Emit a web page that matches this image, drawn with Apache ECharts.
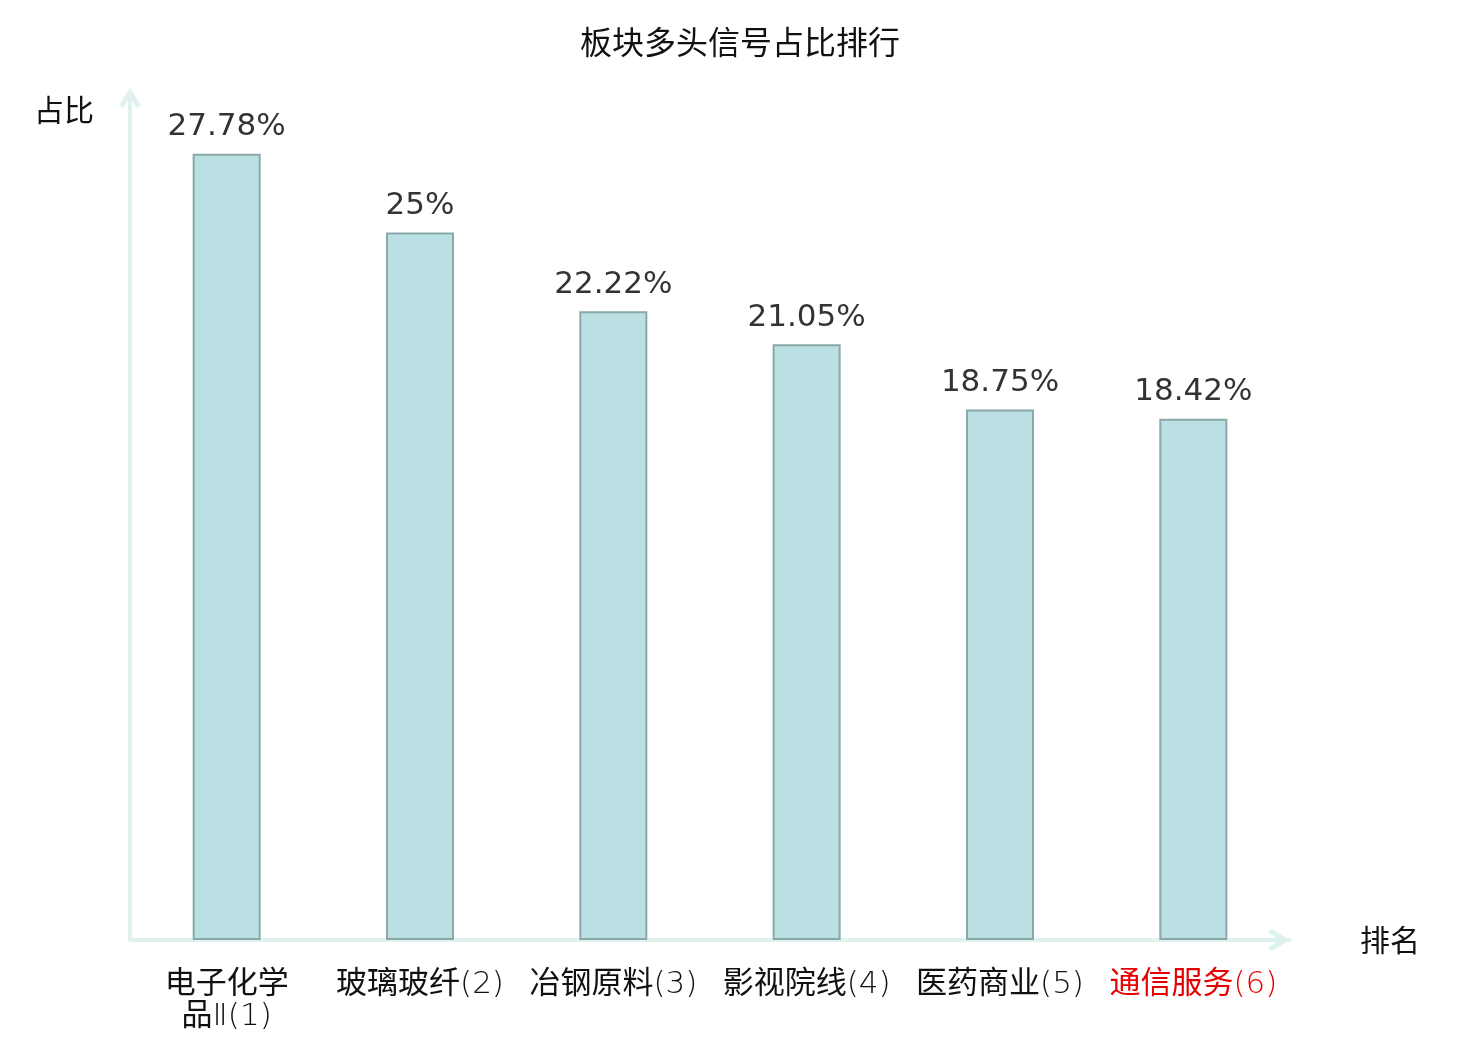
<!DOCTYPE html>
<html lang="zh">
<head>
  <meta charset="UTF-8">
  <title>板块多头信号占比排行</title>
  <script src="https://cdn.jsdelivr.net/npm/echarts@6/dist/echarts.min.js"></script>
  <style>
    html, body { margin: 0; padding: 0; background: #fff; }
    #main { width: 1480px; height: 1040px; }
  </style>
</head>
<body>
  <div id="main"></div>
  <script>
    // 数据
    const categories = ['电子化学品Ⅱ(1)', '玻璃玻纤(2)', '冶钢原料(3)', '影视院线(4)', '医药商业(5)', '通信服务(6)']
    const values = [27.78, 25, 22.22, 21.05, 18.75, 18.42]
    const highlightIndex = 5

    const cjk = 'Noto Sans CJK SC'
    const latin = 'DejaVu Sans'
    const thin = '"DejaVu Sans Light", "Noto Sans CJK SC"'
    // 空心箭头
    const chevron = 'path://M10 0 L20 16 L16.5 19 L10 9 L3.5 19 L0 16 Z'

    const myChart = echarts.init(document.querySelector('#main'))

    const option = {
      title: {
        text: '板块多头信号占比排行',
        left: 'center',
        top: 21,
        textStyle: { fontSize: 32, fontWeight: 'normal', color: '#111', fontFamily: cjk }
      },
      grid: { left: 130, right: 190, top: 91, bottom: 100 },
      xAxis: {
        type: 'category',
        data: categories,
        name: '排名',
        nameGap: 70,
        nameTextStyle: { fontSize: 30, color: '#111', fontFamily: cjk },
        axisLine: {
          lineStyle: { color: '#dff2ef', width: 4 },
          symbol: ['none', chevron],
          symbolSize: [24, 22],
          symbolOffset: [0, -11]
        },
        axisTick: { show: false },
        axisLabel: {
          interval: 0,
          margin: 29,
          fontSize: 31,
          lineHeight: 32,
          fontFamily: thin,
          formatter: function (v) {
            return v.length > 8 ? v.slice(0, 4) + '\n' + v.slice(4) : v
          },
          color: function (v, i) { return i === highlightIndex ? '#e60000' : '#111' }
        }
      },
      yAxis: {
        type: 'value',
        min: 0,
        max: 30,
        name: '占比',
        nameLocation: 'end',
        nameGap: 0,
        nameTextStyle: { fontSize: 30, color: '#111', fontFamily: cjk, align: 'right', padding: [0, 36, -34, 0] },
        axisLine: {
          show: true,
          lineStyle: { color: '#dff2ef', width: 4 },
          symbol: ['none', chevron],
          symbolSize: [22, 24],
          symbolOffset: [0, -7]
        },
        axisTick: { show: false },
        axisLabel: { show: false },
        splitLine: { show: false }
      },
      series: [
        {
          type: 'bar',
          data: values,
          barWidth: 68,
          itemStyle: { color: '#bbe0e3', borderColor: '#8aa8a8', borderWidth: 2 },
          label: {
            show: true,
            position: 'top',
            distance: 11,
            fontSize: 31,
            fontFamily: latin,
            color: '#333',
            formatter: function (p) { return p.value + '%' }
          }
        }
      ]
    }

    myChart.setOption(option)
  </script>
</body>
</html>
